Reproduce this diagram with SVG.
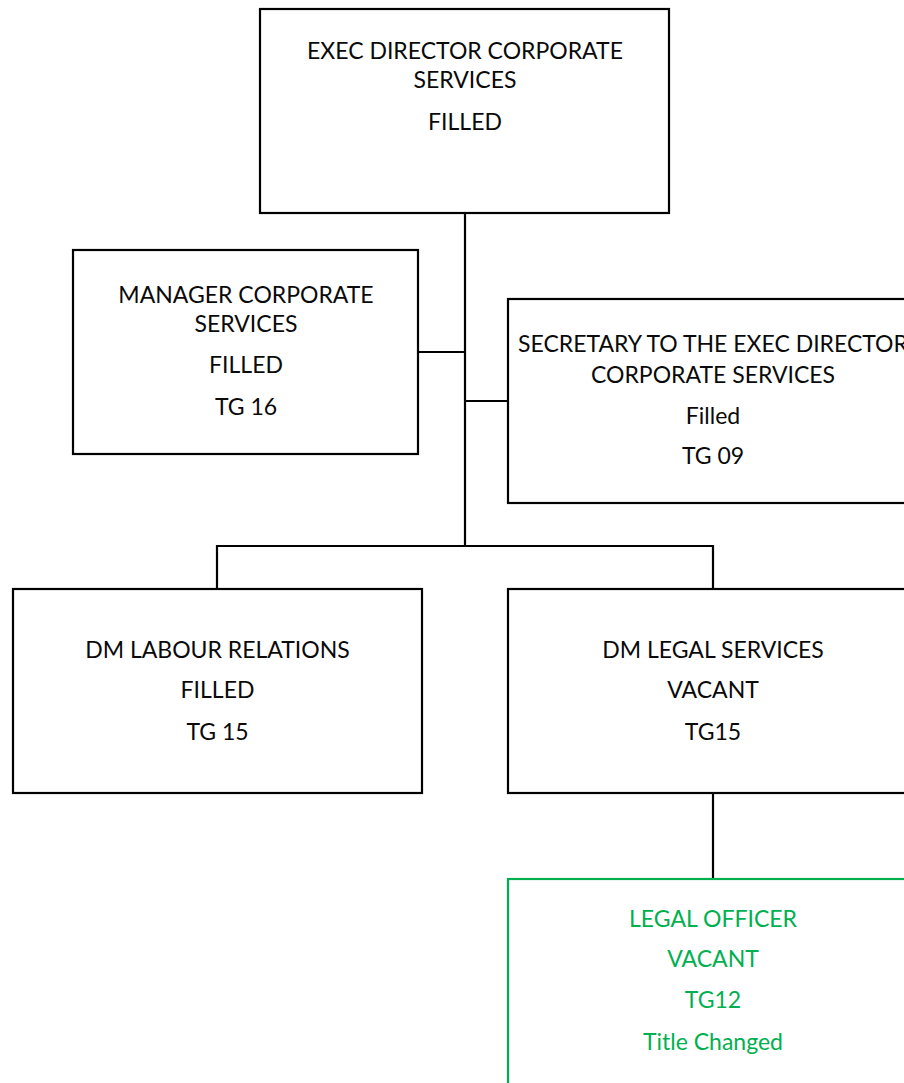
<svg xmlns="http://www.w3.org/2000/svg" width="904" height="1083" viewBox="0 0 904 1083">
  <style>
    .box { fill: #ffffff; stroke: #000000; stroke-width: 2.2; }
    .box.new { stroke: #00b050; }
    .lbl { font-family: Lato, "Open Sans", "Liberation Sans", sans-serif; font-size: 23px; fill: #0a0a0a; text-anchor: middle; }
    .lbl.new { fill: #00b050; }
    .wire { fill: none; stroke: #000000; stroke-width: 2.2; }
  </style>
  <rect width="904" height="1083" fill="#ffffff"/>

  <!-- reporting lines -->
  <g id="connectors">
    <path class="wire" d="M465 213 V546"/>
    <path class="wire" d="M418 352 H465"/>
    <path class="wire" d="M465 401 H508"/>
    <path class="wire" d="M217 589 V546 H713 V589"/>
    <path class="wire" d="M713 793 V879"/>
  </g>

  <g id="exec-director">
    <rect class="box" x="260" y="9" width="409" height="204"/>
    <text class="lbl" x="465" y="59">EXEC DIRECTOR CORPORATE</text>
    <text class="lbl" x="465" y="88">SERVICES</text>
    <text class="lbl" x="465" y="130">FILLED</text>
  </g>

  <g id="manager-corporate">
    <rect class="box" x="73" y="250" width="345" height="204"/>
    <text class="lbl" x="246" y="303">MANAGER CORPORATE</text>
    <text class="lbl" x="246" y="332">SERVICES</text>
    <text class="lbl" x="246" y="373">FILLED</text>
    <text class="lbl" x="246" y="415">TG 16</text>
  </g>

  <g id="secretary">
    <rect class="box" x="508" y="299" width="409" height="204"/>
    <text class="lbl" x="713" y="352">SECRETARY TO THE EXEC DIRECTOR</text>
    <text class="lbl" x="713" y="383">CORPORATE SERVICES</text>
    <text class="lbl" x="713" y="424">Filled</text>
    <text class="lbl" x="713" y="464">TG 09</text>
  </g>

  <g id="dm-labour">
    <rect class="box" x="13" y="589" width="409" height="204"/>
    <text class="lbl" x="217.5" y="658">DM LABOUR RELATIONS</text>
    <text class="lbl" x="217.5" y="698">FILLED</text>
    <text class="lbl" x="217.5" y="740">TG 15</text>
  </g>

  <g id="dm-legal">
    <rect class="box" x="508" y="589" width="409" height="204"/>
    <text class="lbl" x="713" y="658">DM LEGAL SERVICES</text>
    <text class="lbl" x="713" y="698">VACANT</text>
    <text class="lbl" x="713" y="740">TG15</text>
  </g>

  <g id="legal-officer">
    <rect class="box new" x="508" y="879" width="409" height="210"/>
    <text class="lbl new" x="713" y="927">LEGAL OFFICER</text>
    <text class="lbl new" x="713" y="967">VACANT</text>
    <text class="lbl new" x="713" y="1008">TG12</text>
    <text class="lbl new" x="713" y="1050">Title Changed</text>
  </g>
</svg>
